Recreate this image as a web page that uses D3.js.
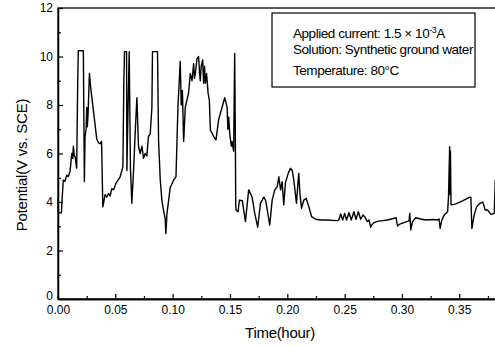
<!DOCTYPE html>
<html>
<head>
<meta charset="utf-8">
<script src="https://cdn.jsdelivr.net/npm/d3@7"></script>
<style>
  body { margin: 0; background: #fff; }
  text { font-family: "Liberation Sans", Arial, sans-serif; fill: #000; }
</style>
</head>
<body>
<div id="chart"></div>
<script>
// time (hour) and potential (V vs. SCE)
const timeHours = [
  0.0000, 0.0005, 0.0030, 0.0035, 0.0046, 0.0060, 0.0076, 0.0090, 0.0105, 0.0120,
  0.0128, 0.0134, 0.0142, 0.0149, 0.0163, 0.0172, 0.0177, 0.0221, 0.0230, 0.0236,
  0.0245, 0.0251, 0.0256, 0.0262, 0.0274, 0.0288, 0.0338, 0.0352, 0.0367, 0.0380,
  0.0391, 0.0411, 0.0425, 0.0440, 0.0455, 0.0469, 0.0485, 0.0505, 0.0542, 0.0566,
  0.0574, 0.0580, 0.0598, 0.0601, 0.0609, 0.0621, 0.0632, 0.0644, 0.0658, 0.0673,
  0.0688, 0.0702, 0.0717, 0.0732, 0.0746, 0.0760, 0.0775, 0.0789, 0.0804, 0.0819,
  0.0824, 0.0868, 0.0877, 0.0892, 0.0906, 0.0920, 0.0935, 0.0941, 0.0950, 0.0979,
  0.1008, 0.1029, 0.1046, 0.1066, 0.1075, 0.1085, 0.1096, 0.1110, 0.1139, 0.1154,
  0.1169, 0.1183, 0.1190, 0.1198, 0.1212, 0.1226, 0.1235, 0.1241, 0.1249, 0.1262,
  0.1270, 0.1278, 0.1285, 0.1296, 0.1309, 0.1320, 0.1329, 0.1358, 0.1378, 0.1401,
  0.1431, 0.1454, 0.1465, 0.1475, 0.1482, 0.1489, 0.1498, 0.1512, 0.1518, 0.1532,
  0.1541, 0.1547, 0.1550, 0.1553, 0.1571, 0.1582, 0.1608, 0.1635, 0.1663, 0.1693,
  0.1716, 0.1742, 0.1766, 0.1795, 0.1812, 0.1847, 0.1868, 0.1891, 0.1912, 0.1926,
  0.1941, 0.1955, 0.1969, 0.1984, 0.2008, 0.2028, 0.2043, 0.2057, 0.2080, 0.2095,
  0.2100, 0.2111, 0.2124, 0.2144, 0.2165, 0.2188, 0.2212, 0.2247, 0.2290, 0.2334,
  0.2436, 0.2450, 0.2465, 0.2483, 0.2500, 0.2517, 0.2538, 0.2558, 0.2581, 0.2599,
  0.2620, 0.2640, 0.2660, 0.2678, 0.2698, 0.2712, 0.2727, 0.2736, 0.2756, 0.2786,
  0.2815, 0.2873, 0.2917, 0.2949, 0.2961, 0.2981, 0.3018, 0.3048, 0.3062, 0.3068,
  0.3077, 0.3092, 0.3121, 0.3164, 0.3208, 0.3267, 0.3310, 0.3324, 0.3333, 0.3348,
  0.3368, 0.3398, 0.3406, 0.3416, 0.3420, 0.3423, 0.3428, 0.3435, 0.3470, 0.3529,
  0.3587, 0.3601, 0.3610, 0.3630, 0.3651, 0.3674, 0.3704, 0.3715, 0.3726, 0.3747,
  0.3776, 0.3805, 0.3814, 0.3818
];
const potentialV = [
  4.10, 3.55, 3.55, 4.05, 4.90, 4.85, 5.10, 5.05, 5.25, 6.00,
  5.80, 6.30, 5.90, 5.87, 5.40, 8.96, 10.24, 10.24, 4.84, 6.70,
  7.00, 7.90, 7.10, 7.60, 9.30, 8.60, 6.60, 6.45, 6.40, 6.50,
  3.80, 4.30, 4.20, 4.35, 4.25, 4.55, 4.50, 4.77, 5.04, 5.45,
  8.90, 10.20, 10.20, 5.30, 7.40, 10.20, 5.40, 3.95, 5.20, 6.80,
  8.30, 6.30, 6.00, 6.30, 5.80, 6.00, 5.90, 6.70, 6.80, 7.90,
  10.20, 10.20, 6.56, 4.90, 4.08, 3.67, 3.30, 2.70, 3.50, 4.60,
  4.90, 5.04, 7.90, 9.80, 8.00, 8.60, 6.50, 7.90, 8.50, 9.30,
  9.00, 9.70, 9.10, 9.30, 9.90, 10.00, 9.30, 9.00, 9.60, 9.86,
  8.90, 9.60, 8.90, 9.30, 8.50, 8.20, 6.97, 6.70, 6.56, 7.40,
  7.90, 8.30, 8.10, 7.90, 7.00, 7.50, 6.80, 6.30, 6.50, 6.10,
  10.13, 6.56, 3.90, 3.67, 3.60, 4.08, 4.05, 3.19, 4.50, 4.20,
  3.53, 2.96, 3.95, 4.20, 4.05, 3.05, 4.08, 4.50, 4.63, 5.04,
  4.50, 4.84, 3.88, 4.80, 5.18, 5.39, 5.30, 4.90, 3.95, 4.90,
  5.18, 4.30, 3.74, 4.08, 4.15, 3.80, 3.40, 3.29, 3.26, 3.26,
  3.23, 3.26, 3.51, 3.26, 3.53, 3.26, 3.56, 3.26, 3.60, 3.29,
  3.60, 3.29, 3.46, 3.37, 3.19, 3.26, 2.96, 3.05, 3.15, 3.20,
  3.22, 3.26, 3.31, 3.35, 3.01, 3.09, 3.15, 3.20, 3.22, 3.53,
  2.85, 3.19, 3.35, 3.30, 3.26, 3.28, 3.26, 3.30, 2.91, 3.26,
  3.46, 3.60, 4.20, 6.28, 4.30, 6.10, 3.90, 3.88, 3.92, 4.05,
  4.19, 4.20, 2.91, 3.46, 3.80, 3.92, 4.00, 3.85, 3.67, 3.67,
  3.49, 3.53, 4.90, 4.90
];

const xMajorTicks = [0, 0.05, 0.10, 0.15, 0.20, 0.25, 0.30, 0.35];
const xMinorTicks = [0.025, 0.075, 0.125, 0.175, 0.225, 0.275, 0.325, 0.375];
const yMajorTicks = [0, 2, 4, 6, 8, 10, 12];
const yMinorTicks = [1, 3, 5, 7, 9, 11];

const xTitle = 'Time(hour)';
const yTitle = 'Potential(V vs. SCE)';
const legendLines = ['Solution: Synthetic ground water', 'Temperature: 80°C'];

const width = 495, height = 347;
const plot = { left: 58, right: 497, top: 8, bottom: 299 };

const svg = d3.select('#chart').append('svg')
  .attr('width', width).attr('height', height);

const x = d3.scaleLinear().domain([0, 0.3829]).range([plot.left, plot.right]);
const y = d3.scaleLinear().domain([0, 12]).range([plot.bottom, plot.top]);

// frame
svg.append('rect')
  .attr('x', plot.left).attr('y', plot.top)
  .attr('width', plot.right - plot.left).attr('height', plot.bottom - plot.top)
  .attr('fill', 'none').attr('stroke', '#000').attr('stroke-width', 1.3);

// axes, ticks point inward
svg.append('g')
  .attr('transform', `translate(0,${plot.bottom})`)
  .call(d3.axisBottom(x).tickValues(xMajorTicks).tickSize(-5).tickSizeOuter(0)
    .tickPadding(6.5).tickFormat(d3.format('.2f')));
svg.append('g')
  .attr('transform', `translate(0,${plot.bottom})`)
  .call(d3.axisBottom(x).tickValues(xMinorTicks).tickSize(-3).tickSizeOuter(0).tickFormat(''));

const yAxis = svg.append('g')
  .attr('transform', `translate(${plot.left},0)`)
  .call(d3.axisLeft(y).tickValues(yMajorTicks).tickSize(-5).tickSizeOuter(0).tickPadding(5));
svg.append('g')
  .attr('transform', `translate(${plot.left},0)`)
  .call(d3.axisLeft(y).tickValues(yMinorTicks).tickSize(-3).tickSizeOuter(0).tickFormat(''));

svg.selectAll('.domain').attr('stroke', '#000').attr('stroke-width', 1.3);
svg.selectAll('.tick line').attr('stroke', '#000').attr('stroke-width', 1.2);
svg.selectAll('.tick text').attr('font-size', 12).attr('fill', '#000')
  .style('font-family', '"Liberation Sans", Arial, sans-serif');
// the "0" label sits a touch above its tick, as in the original
yAxis.selectAll('.tick text').filter(d => d === 0).attr('dy', '0.05em');

// series
const series = timeHours.map((t, i) => [t, potentialV[i]]);
svg.append('path')
  .datum(series)
  .attr('fill', 'none')
  .attr('stroke', '#000')
  .attr('stroke-width', 1.4)
  .attr('stroke-linejoin', 'round')
  .attr('d', d3.line().x(d => x(d[0])).y(d => y(d[1])));

// axis titles
svg.append('text')
  .attr('x', 280).attr('y', 338)
  .attr('text-anchor', 'middle')
  .attr('font-size', 15).attr('letter-spacing', -0.3)
  .text(xTitle);
svg.append('text')
  .attr('transform', 'translate(27,165) rotate(-90)')
  .attr('text-anchor', 'middle')
  .attr('font-size', 15).attr('letter-spacing', -0.2)
  .text(yTitle);

// legend box
svg.append('rect')
  .attr('x', 272).attr('y', 13)
  .attr('width', 203).attr('height', 74)
  .attr('fill', '#fff').attr('stroke', '#000').attr('stroke-width', 1.2);

const l1 = svg.append('text')
  .attr('x', 293).attr('y', 37.5)
  .attr('font-size', 13.5).attr('letter-spacing', -0.45);
l1.append('tspan').text('Applied current: 1.5 × 10');
l1.append('tspan').attr('dy', -5).attr('font-size', 9).text('-3');
l1.append('tspan').attr('dy', 5).text('A');

svg.selectAll('.legend-line')
  .data(legendLines)
  .enter().append('text')
  .attr('class', 'legend-line')
  .attr('x', 293)
  .attr('y', (d, i) => [54, 75][i])
  .attr('font-size', 13.5).attr('letter-spacing', -0.45)
  .text(d => d);
</script>
</body>
</html>
